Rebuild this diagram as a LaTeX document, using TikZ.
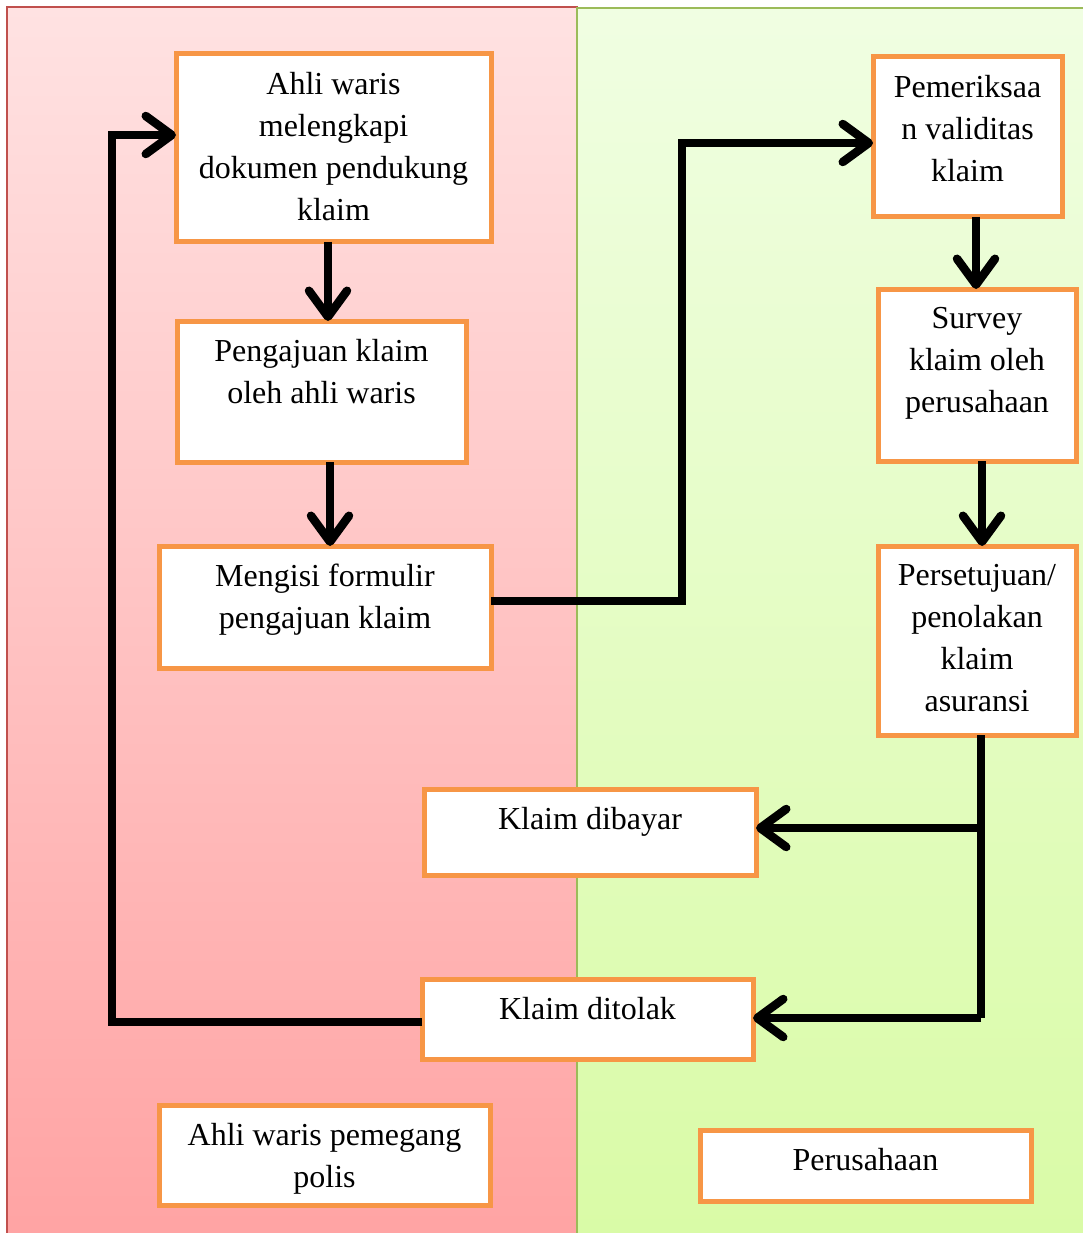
\documentclass[tikz,border=0pt]{standalone}
\usepackage{fontspec}
\setmainfont{Liberation Serif}
\usetikzlibrary{arrows.meta}
\definecolor{orng}{HTML}{F79646}
\definecolor{laneR}{HTML}{C0504D}
\definecolor{laneG}{HTML}{9BBB59}
\definecolor{redTop}{HTML}{FFE2E2}
\definecolor{redBot}{HTML}{FFA3A3}
\definecolor{grnTop}{HTML}{F0FEE2}
\definecolor{grnBot}{HTML}{D9FBA6}
\begin{document}
\begin{tikzpicture}[x=1pt,y=-1pt,
  box/.style={draw=orng, line width=5pt, fill=white, anchor=north west, inner sep=0pt, outer sep=0pt},
  lbl/.style={anchor=north, yshift=-18pt, align=center, inner sep=0pt, font=\fontsize{32}{42}\selectfont},
  conn/.style={line width=8.5pt, line join=miter, -{Straight Barb[round, length=26pt, width=38pt]}},
  plain/.style={line width=8.5pt, line join=miter}]
\useasboundingbox (0,0) rectangle (1083,1233);
% lanes
\path[top color=redTop, bottom color=redBot, draw=laneR, line width=1.5pt] (7,7) rectangle (577,1245);
\path[top color=grnTop, bottom color=grnBot, draw=laneG, line width=1.5pt] (577,8) rectangle (1095,1245);
\newcommand\mybox[6]{\node[box, minimum width={#4-#2}, minimum height={#5-#3},
  label={[lbl, name=#1t]north:#6}] (#1) at (#2,#3) {};}
\mybox{b1}{176}{54}{491}{242}{Ahli waris\\melengkapi\\dokumen pendukung\\klaim}
\mybox{b2}{177}{321}{466}{462}{Pengajuan klaim\\oleh ahli waris}
\mybox{b3}{159}{546}{491}{668}{Mengisi formulir\\pengajuan klaim}
\mybox{b4}{873}{57}{1062}{217}{Pemeriksaa\\n validitas\\klaim}
\mybox{b5}{878}{289}{1076}{461}{Survey\\klaim oleh\\perusahaan}
\mybox{b6}{878}{546}{1076}{735}{Persetujuan/\\penolakan\\klaim\\asuransi}
\mybox{b7}{424}{789}{756}{875}{Klaim dibayar}
\mybox{b8}{422}{979}{753}{1059}{Klaim ditolak}
\mybox{b9}{159}{1105}{490}{1205}{Ahli waris pemegang\\polis}
\mybox{b10}{700}{1130}{1031}{1201}{Perusahaan}
% connectors
\draw[conn] (b1.south -| 328,0) -- (b2.north -| 328,0);
\draw[conn] (b2.south -| 330,0) -- (b3.north -| 330,0);
\draw[conn] (b3.east |- 0,601) -| (682,143) -- (b4.west |- 0,143);
\draw[conn] (b4.south -| 976,0) -- (b5.north -| 976,0);
\draw[conn] (b5.south -| 982,0) -- (b6.north -| 982,0);
\coordinate (split) at (981,828);
\draw[plain] (b6.south -| 981,0) -- (981,1018) coordinate (corner);
\draw[conn] (split) -- (b7.east |- split);
\draw[conn] (corner) -- (b8.east |- corner);
\draw[conn] (b8.west |- 0,1022) -| (112,135) -- (b1.west |- 0,135);
\end{tikzpicture}
\end{document}
